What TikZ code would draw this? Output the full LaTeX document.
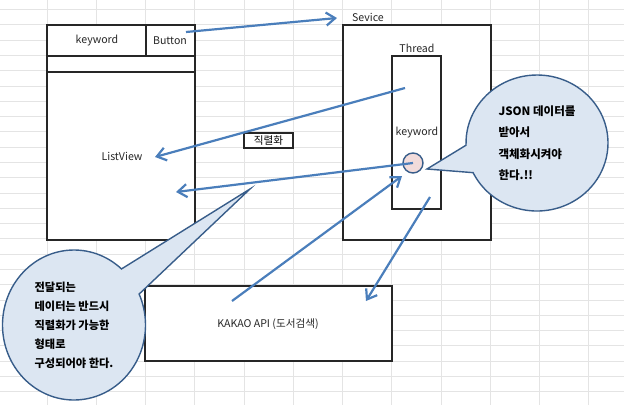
\documentclass[tikz,border=0pt]{standalone}
\usepackage{fontspec}
\setmainfont{Noto Sans CJK KR}
\usetikzlibrary{arrows.meta,shapes.callouts}
\definecolor{arrowblue}{HTML}{4A7EBB}
\definecolor{bubblefill}{HTML}{DCE6F2}
\definecolor{bubbleline}{HTML}{385D8A}
\definecolor{dotfill}{HTML}{F2DCDB}
\definecolor{gridgray}{HTML}{E4E4E4}

\begin{document}
\begin{tikzpicture}[x=1pt,y=-1pt,
  box/.style={draw=black!85,line width=1.5pt,fill=white,inner sep=0pt},
  flow/.style={draw=arrowblue,line width=2.2pt,-{Straight Barb[length=9pt,width=13pt]}},
  txt/.style={font=\fontsize{10.6}{12}\selectfont,text=black!85,inner sep=0pt},
  bubble/.style={ellipse callout,draw=bubbleline,fill=bubblefill,line width=1.4pt,
    inner sep=0pt,callout pointer arc=24,align=left}]
\useasboundingbox (0,0) rectangle (624,405);
% sheet grid
\foreach \i in {0,...,11}
  \draw[gridgray,line width=1pt] ({47+49.27*\i},0) -- ({47+49.27*\i},405);
\foreach \j in {0,...,25}
  \draw[gridgray,line width=1pt] (0,{9.6+15.29*\j}) -- (624,{9.6+15.29*\j});

% app screen
\node[box,minimum width=148pt,minimum height=215pt] (screen) at (121,132.5) {};
\draw[black!85,line width=1.5pt] (47,56) -- (195,56);
\draw[black!85,line width=1.5pt] (47,72) -- (195,72);
\draw[black!85,line width=1.5pt] (146,25) -- (146,56);
\node[txt] (kw) at (97,41) {keyword};
\node[txt] (btn) at (170,41) {Button};
\node[txt] (lv) at (122,156) {ListView};

\node[box,line width=1.3pt,minimum width=49pt,minimum height=15pt,
  font=\fontsize{10.6}{12}\selectfont] (ser) at (268.5,140.5) {직렬화};

% service and thread
\node[box,minimum width=148pt,minimum height=215pt] (svc) at (417,132.5) {};
\node[txt] (svctitle) at (368,17) {Sevice};
\node[box,minimum width=49pt,minimum height=153pt] (thr) at (416.5,132.5) {};
\node[txt] (thrtitle) at (417,48) {Thread};
\node[txt] (thrkw) at (417,133) {keyword};
\node[circle,draw=bubbleline,fill=dotfill,line width=1.4pt,minimum size=20pt,
  inner sep=0pt] (dot) at (413,163) {};

% api
\node[box,minimum width=247pt,minimum height=75pt] (api) at (268.5,323.5) {};
\node[txt] (apitxt) at (268,324) {KAKAO API (도서검색)};

% arrow ends
\coordinate (btnout) at (186,32);
\coordinate (svcin) at (337,18);
\coordinate (throut) at (405,88);
\coordinate (lvin) at (155,157);
\coordinate (lvin2) at (176,192);
\coordinate (apiout) at (232,301);
\coordinate (dotin) at (402,176);
\coordinate (thrdown) at (430,197);
\coordinate (apiin) at (366,301);
\coordinate (rtip) at (427,169);
\coordinate (ltip) at (250,189);

\draw[flow] (btnout) -- (svcin);
\draw[flow] (throut) -- (lvin);
\draw[flow] (dot.center) -- (lvin2);
\draw[flow] (apiout) -- (dotin);
\draw[flow] (thrdown) -- (apiin);

% notes
\node[bubble,minimum width=142pt,minimum height=136pt,callout absolute pointer=(rtip),
  font=\fontsize{11.5}{21.5}\selectfont\bfseries] (note1) at (537,143)
  {JSON 데이터를\\받아서\\객체화시켜야\\한다.!!};
\node[bubble,minimum width=143pt,minimum height=150pt,callout absolute pointer=(ltip),
  font=\fontsize{11.2}{19}\selectfont\bfseries] (note2) at (74,325)
  {전달되는\\데이터는 반드시\\직렬화가 가능한\\형태로\\구성되어야 한다.};
\end{tikzpicture}
\end{document}
